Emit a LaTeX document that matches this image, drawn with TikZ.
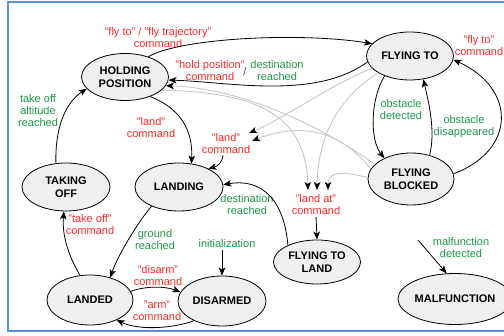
\documentclass[tikz,border=0pt]{standalone}
\usepackage{fontspec}
\setmainfont{Liberation Sans}
\usetikzlibrary{shapes.geometric,arrows.meta}
\definecolor{cmdred}{RGB}{255,40,40}
\definecolor{evgreen}{RGB}{30,150,70}
\definecolor{frameblue}{RGB}{91,146,210}
\definecolor{statefill}{RGB}{239,239,239}
\definecolor{linkgray}{RGB}{200,200,200}
\definecolor{slashcol}{RGB}{40,90,110}
\begin{document}
\begin{tikzpicture}[x=1pt,y=-1pt,
  state/.style={ellipse, draw=black, line width=0.8pt, fill=statefill, inner sep=0pt,
    font=\fontsize{11}{12.5}\selectfont\bfseries, align=center},
  cmd/.style={text=cmdred, inner sep=0pt, align=center, font=\fontsize{11}{12}\selectfont},
  evt/.style={text=evgreen, inner sep=0pt, align=center, font=\fontsize{11}{12}\selectfont},
  tip/.style={-{Stealth[length=8pt,width=6.5pt,inset=2pt,color=black]}},
  trans/.style={draw=black, line width=0.8pt, tip},
  alt/.style={draw=linkgray, line width=0.9pt, tip},
]
\useasboundingbox (0,0) rectangle (504,336);
% page frame, open on the right
\draw[frameblue, line width=2pt] (520,2) -- (8,2) -- (8,331) -- (520,331);

% states
\node[state, minimum width=87pt, minimum height=47pt] (hp)  at (125,77)  {HOLDING\\POSITION};
\node[state, minimum width=87pt, minimum height=48pt] (ft)  at (410,56)  {FLYING TO};
\node[state, minimum width=86pt, minimum height=52pt] (fb)  at (411,179) {FLYING\\BLOCKED};
\node[state, minimum width=88pt, minimum height=48pt] (to)  at (66,187)  {TAKING\\OFF};
\node[state, minimum width=88pt, minimum height=48pt] (ld)  at (179,187) {LANDING};
\node[state, minimum width=86pt, minimum height=50pt] (lnd) at (90,300)  {LANDED};
\node[state, minimum width=88pt, minimum height=50pt] (dis) at (222,301) {DISARMED};
\node[state, minimum width=87pt, minimum height=44pt] (ftl) at (317,262) {FLYING TO\\LAND};
\node[state, minimum width=89pt, minimum height=51pt] (mal) at (455,299) {MALFUNCTION};

% transition labels
\node[cmd] (c1) at (158,38)  {"fly to" / "fly trajectory"\\command};
\node[cmd] (c2) at (210,71)  {"hold position"\\command};
\node[text=slashcol, inner sep=0pt, font=\fontsize{11}{12}\selectfont] (sl) at (245,72) {/};
\node[evt] (e2) at (277,71)  {destination\\reached};
\node[cmd] (c3) at (479,46)  {"fly to"\\command};
\node[evt] (e3) at (401,110) {obstacle\\detected};
\node[evt] (e4) at (464,127) {obstacle\\disappeared};
\node[evt] (e5) at (38,111)  {take off\\altitude\\reached};
\node[cmd] (c4) at (151,128) {"land"\\command};
\node[cmd] (c5) at (226,144) {"land"\\command};
\node[evt] (e6) at (247,205) {destination\\reached};
\node[cmd] (c6) at (316,205) {"land at"\\command};
\node[evt] (e7) at (155,240) {ground\\reached};
\node[cmd] (c7) at (90,225)  {"take off"\\command};
\node[evt] (e8) at (227,244) {initialization};
\node[cmd] (c8) at (158,276) {"disarm"\\command};
\node[cmd] (c9) at (157,311) {"arm"\\command};
\node[evt] (e9) at (461,248) {malfunction\\detected};

% arrival points of the shared "land" / "land at" transitions
\coordinate (lA)  at (249,133);
\coordinate (lB)  at (252,141);
\coordinate (laA) at (308,190);
\coordinate (laB) at (317,190);
\coordinate (laC) at (328,190);
\coordinate (malsrc) at (418,240);

% shared transitions (gray)
\draw[alt] (hp.340) .. controls (258,92) and (306,115) .. (laA);
\draw[alt] (fb.158) .. controls (320,125) and (240,88) .. (hp.348);
\draw[alt] (ft.198) .. controls (330,85) and (285,118) .. (lA);
\draw[alt] (fb.166) .. controls (340,130) and (300,122) .. (lB);
\draw[alt] (ft.208) .. controls (335,100) and (318,140) .. (laB);
\draw[alt] (fb.178) .. controls (345,172) and (328,170) .. (laC);

% transitions
\draw[trans] (hp.41) .. controls (180,38) and (300,32) .. (ft.162);
\draw[trans] (ft.188) .. controls (315,100) and (230,82) .. (hp.356);
\draw[trans] (fb.7) .. controls (517,150) and (516,88) .. (ft.355);
\draw[trans] (ft.218) .. controls (370,100) and (370,140) .. (fb.142);
\draw[trans] (fb.52) .. controls (436,130) and (428,100) .. (ft.300);
\draw[trans] (to.113) .. controls (55,135) and (62,105) .. (hp.197);
\draw[trans] (hp.322) .. controls (180,108) and (193,130) .. (ld.62);
\draw[trans] ([xshift=-3pt,yshift=-1pt]c5.south) .. controls (222,163) and (218,166) .. (ld.32);
\draw[trans] (ld.215) .. controls (138,222) and (118,255) .. (lnd.48);
\draw[trans] (lnd.112) .. controls (68,255) and (62,235) .. (to.265);
\draw[trans] (lnd.12) .. controls (145,286) and (165,286) .. (dis.168);
\draw[trans] (dis.215) .. controls (175,328) and (140,331) .. (lnd.323);
\draw[trans] (ftl.150) .. controls (284,200) and (262,178) .. (ld.3);
\draw[trans, shorten <=2pt] (c6.south) -- (ftl.north);
\draw[trans, shorten <=2pt] (e8.south -| dis.north) -- (dis.north);
\draw[trans] (malsrc) -- (mal.108);
\end{tikzpicture}
\end{document}
